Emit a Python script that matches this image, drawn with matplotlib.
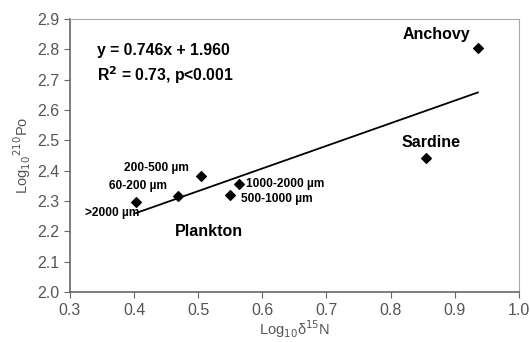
import numpy as np
import matplotlib
matplotlib.use("Agg")
import matplotlib.pyplot as plt

plt.rcParams["font.family"] = ["Liberation Sans", "DejaVu Sans"]

# Data
labels = [">2000 µm", "60-200 µm", "200-500 µm", "500-1000 µm", "1000-2000 µm", "Sardine", "Anchovy"]
x_vals = [0.403, 0.468, 0.505, 0.550, 0.563, 0.855, 0.936]
y_vals = [2.298, 2.317, 2.384, 2.321, 2.356, 2.443, 2.806]
slope, intercept = 0.746, 1.960

# label positions (data coords) and sizes
label_pos = [(0.323, 2.262), (0.361, 2.350), (0.384, 2.409), (0.567, 2.307),
             (0.575, 2.356), (0.817, 2.493), (0.818, 2.851)]
label_size = [8.6, 8.6, 8.6, 8.6, 8.6, 11.5, 11.5]

fig = plt.figure(figsize=(5.3, 3.42), dpi=100)
ax = fig.add_axes([0.132, 0.146, 0.847, 0.798])

ax.scatter(x_vals, y_vals, marker="D", s=24, color="black", zorder=3)

xs = np.array([min(x_vals), max(x_vals)])
ax.plot(xs, slope * xs + intercept, color="black", lw=1.3)

for lab, (tx, ty), fs in zip(labels, label_pos, label_size):
    ax.text(tx, ty, lab, fontsize=fs, fontweight="bold", va="center", ha="left")

ax.text(0.464, 2.201, "Plankton", fontsize=11.5, fontweight="bold", va="center")
ax.text(0.342, 2.795, f"y = {slope:.3f}x + {intercept:.3f}", fontsize=11.3,
        fontweight="bold", va="center")
ax.text(0.342, 2.716, r"R$^{\mathbf{2}}$ = 0.73, p<0.001", fontsize=11.3,
        fontweight="bold", va="center")

ax.set_xlim(0.3, 1.0)
ax.set_ylim(2.0, 2.9)
ax.set_xticks(np.arange(0.3, 1.01, 0.1))
ax.set_yticks(np.arange(2.0, 2.91, 0.1))
ax.xaxis.set_major_formatter(plt.FormatStrFormatter("%.1f"))
ax.yaxis.set_major_formatter(plt.FormatStrFormatter("%.1f"))
ax.tick_params(direction="out", length=4, color="#666666", labelcolor="#555555",
               labelsize=11.5)
ax.tick_params(axis="x", pad=4)

for side in ["left", "bottom"]:
    ax.spines[side].set_color("#666666")
    ax.spines[side].set_linewidth(1.2)
for side in ["top", "right"]:
    ax.spines[side].set_color("#aaaaaa")

ax.set_xlabel(r"Log$_{10}$δ$^{15}$N", fontsize=10.5, color="#555555", labelpad=0)
ax.set_ylabel(r"Log$_{10}$$^{210}$Po", fontsize=10.5, color="#555555", labelpad=3)

plt.savefig("out.png", dpi=100)
